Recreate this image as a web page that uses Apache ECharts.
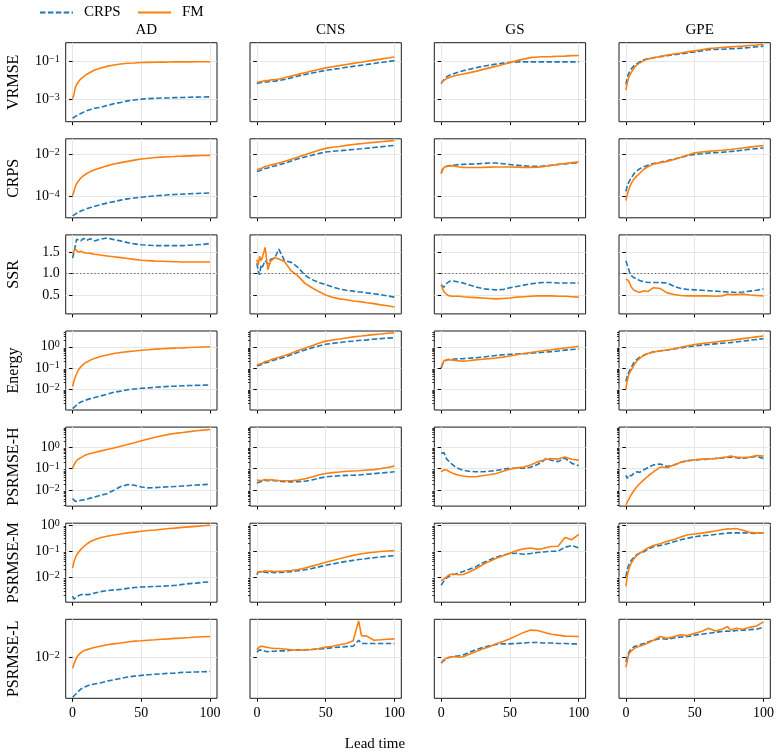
<!DOCTYPE html>
<html>
<head>
<meta charset="utf-8">
<script src="https://cdn.jsdelivr.net/npm/echarts@6/dist/echarts.min.js"></script>
<style>
html,body{margin:0;padding:0;background:#fff}
#chart{width:782px;height:755px}
</style>
</head>
<body>
<div id="chart"></div>
<script>
// lead time steps shared by every panel
var leadTime = [0,1,2,3,4,6,8,10,13,16,20,25,30,35,40,45,50,55,60,65,70,74,76,80,85,90,95,100];
var datasets = ['AD','CNS','GS','GPE'];
var metrics = ['VRMSE','CRPS','SSR','Energy','PSRMSE-H','PSRMSE-M','PSRMSE-L'];
var xTicks = [0,50,100];

// VRMSE
var VRMSE_CRPS_AD = [1.05e-4,1.17e-4,1.32e-4,1.41e-4,1.55e-4,1.86e-4,2.19e-4,2.57e-4,3.02e-4,3.47e-4,3.89e-4,4.9e-4,6.03e-4,7.08e-4,8.51e-4,9.55e-4,1.05e-3,1.12e-3,1.17e-3,1.2e-3,1.23e-3,1.26e-3,1.26e-3,1.29e-3,1.32e-3,1.35e-3,1.36e-3,1.38e-3];
var VRMSE_FM_AD = [1.12e-3,1.86e-3,4.27e-3,6.3e-3,8.1e-3,1.23e-2,1.58e-2,2.04e-2,2.69e-2,3.55e-2,4.37e-2,5.5e-2,6.46e-2,7.24e-2,7.94e-2,8.3e-2,8.7e-2,8.9e-2,9.1e-2,9.2e-2,9.3e-2,9.4e-2,9.4e-2,9.45e-2,9.5e-2,9.55e-2,9.6e-2,9.6e-2];
var VRMSE_CRPS_CNS = [6.9e-3,7.2e-3,7.6e-3,7.4e-3,7.9e-3,8.3e-3,8.5e-3,9.1e-3,9.3e-3,1.0e-2,1.12e-2,1.38e-2,1.7e-2,2.04e-2,2.45e-2,2.88e-2,3.39e-2,3.8e-2,4.27e-2,4.9e-2,5.5e-2,6.0e-2,6.3e-2,6.9e-2,7.8e-2,8.7e-2,9.8e-2,0.11];
var VRMSE_FM_CNS = [8.1e-3,8.9e-3,8.5e-3,9.5e-3,9.1e-3,1.0e-2,9.8e-3,1.07e-2,1.1e-2,1.2e-2,1.38e-2,1.7e-2,2.09e-2,2.57e-2,3.16e-2,3.8e-2,4.57e-2,5.25e-2,6.0e-2,6.9e-2,7.9e-2,8.7e-2,9.1e-2,0.102,0.117,0.132,0.151,0.17];
var VRMSE_CRPS_GS = [6.8e-3,8.9e-3,1.12e-2,1.38e-2,1.58e-2,1.9e-2,2.14e-2,2.4e-2,2.82e-2,3.24e-2,3.8e-2,4.57e-2,5.5e-2,6.3e-2,7.2e-2,8.1e-2,8.9e-2,9.3e-2,9.5e-2,9.5e-2,9.5e-2,9.5e-2,9.5e-2,9.5e-2,9.5e-2,9.5e-2,9.5e-2,9.5e-2];
var VRMSE_FM_GS = [7.6e-3,8.9e-3,1.02e-2,1.15e-2,1.26e-2,1.45e-2,1.62e-2,1.78e-2,2.0e-2,2.19e-2,2.51e-2,3.0e-2,3.7e-2,4.57e-2,5.6e-2,6.9e-2,8.7e-2,0.11,0.132,0.158,0.17,0.174,0.174,0.178,0.186,0.19,0.2,0.204];
var VRMSE_CRPS_GPE = [6.2e-3,1.38e-2,2.29e-2,3.16e-2,4.07e-2,6.0e-2,7.6e-2,9.5e-2,0.123,0.138,0.155,0.178,0.2,0.224,0.251,0.282,0.309,0.355,0.407,0.427,0.437,0.452,0.457,0.468,0.5,0.537,0.582,0.631];
var VRMSE_FM_GPE = [3.16e-3,7.6e-3,1.38e-2,2.0e-2,2.69e-2,4.57e-2,6.5e-2,8.3e-2,0.11,0.132,0.155,0.182,0.214,0.245,0.275,0.316,0.355,0.407,0.468,0.5,0.537,0.562,0.575,0.6,0.63,0.676,0.724,0.794];

// CRPS
var CRPS_CRPS_AD = [1.23e-5,1.35e-5,1.48e-5,1.62e-5,1.78e-5,2.09e-5,2.34e-5,2.63e-5,3.02e-5,3.47e-5,4.07e-5,4.9e-5,5.75e-5,6.76e-5,7.76e-5,8.5e-5,9.3e-5,1.0e-4,1.07e-4,1.13e-4,1.2e-4,1.24e-4,1.26e-4,1.29e-4,1.35e-4,1.38e-4,1.43e-4,1.48e-4];
var CRPS_FM_AD = [1.07e-4,1.78e-4,2.95e-4,4.0e-4,5.1e-4,7.4e-4,9.5e-4,1.17e-3,1.48e-3,1.82e-3,2.19e-3,2.75e-3,3.39e-3,3.89e-3,4.47e-3,5.1e-3,5.75e-3,6.3e-3,6.76e-3,7.08e-3,7.4e-3,7.6e-3,7.8e-3,7.9e-3,8.1e-3,8.3e-3,8.4e-3,8.5e-3];
var CRPS_CRPS_CNS = [1.51e-3,1.74e-3,1.62e-3,1.91e-3,1.82e-3,2.09e-3,2.19e-3,2.51e-3,2.69e-3,3.02e-3,3.63e-3,4.68e-3,5.9e-3,7.24e-3,8.7e-3,1.05e-2,1.23e-2,1.32e-2,1.41e-2,1.51e-2,1.62e-2,1.7e-2,1.74e-2,1.86e-2,2.0e-2,2.14e-2,2.34e-2,2.51e-2];
var CRPS_FM_CNS = [1.82e-3,2.09e-3,2.0e-3,2.34e-3,2.19e-3,2.63e-3,2.69e-3,3.02e-3,3.31e-3,3.72e-3,4.37e-3,5.6e-3,7.08e-3,9.1e-3,1.17e-2,1.48e-2,1.82e-2,2.04e-2,2.24e-2,2.51e-2,2.75e-2,2.95e-2,3.02e-2,3.24e-2,3.47e-2,3.72e-2,3.98e-2,4.27e-2];
var CRPS_CRPS_GS = [1.26e-3,1.91e-3,2.29e-3,2.51e-3,2.63e-3,2.75e-3,2.88e-3,3.02e-3,3.16e-3,3.24e-3,3.31e-3,3.39e-3,3.55e-3,3.72e-3,3.72e-3,3.47e-3,3.16e-3,2.95e-3,2.75e-3,2.63e-3,2.63e-3,2.69e-3,2.75e-3,2.95e-3,3.16e-3,3.39e-3,3.63e-3,3.8e-3];
var CRPS_FM_GS = [1.17e-3,1.78e-3,2.34e-3,2.57e-3,2.69e-3,2.82e-3,2.75e-3,2.63e-3,2.45e-3,2.34e-3,2.29e-3,2.29e-3,2.34e-3,2.4e-3,2.45e-3,2.45e-3,2.45e-3,2.4e-3,2.34e-3,2.34e-3,2.4e-3,2.51e-3,2.63e-3,2.88e-3,3.24e-3,3.55e-3,3.89e-3,4.17e-3];
var CRPS_CRPS_GPE = [1.74e-4,3.16e-4,4.47e-4,6.0e-4,7.6e-4,1.2e-3,1.58e-3,2.0e-3,2.51e-3,2.95e-3,3.55e-3,4.07e-3,4.79e-3,5.75e-3,6.9e-3,8.3e-3,9.5e-3,1.02e-2,1.1e-2,1.15e-2,1.2e-2,1.26e-2,1.29e-2,1.38e-2,1.51e-2,1.66e-2,1.78e-2,1.91e-2];
var CRPS_FM_GPE = [6.5e-5,1.26e-4,2.0e-4,3.02e-4,4.27e-4,6.76e-4,9.3e-4,1.2e-3,1.91e-3,2.51e-3,3.31e-3,3.89e-3,4.47e-3,5.5e-3,6.9e-3,8.9e-3,1.12e-2,1.23e-2,1.32e-2,1.41e-2,1.48e-2,1.58e-2,1.62e-2,1.74e-2,1.91e-2,2.09e-2,2.29e-2,2.45e-2];

// SSR
var SSR_CRPS_AD = [1.36,1.5,1.65,1.8,1.83,1.76,1.82,1.77,1.81,1.76,1.8,1.83,1.79,1.76,1.72,1.69,1.67,1.66,1.65,1.65,1.65,1.65,1.65,1.65,1.66,1.67,1.68,1.7];
var SSR_FM_AD = [1.47,1.52,1.57,1.54,1.5,1.52,1.49,1.48,1.47,1.45,1.43,1.41,1.39,1.37,1.35,1.33,1.31,1.3,1.29,1.285,1.28,1.275,1.275,1.27,1.27,1.27,1.27,1.27];
var SSR_CRPS_CNS = [1.24,1.06,0.97,1.2,1.15,1.3,1.22,1.33,1.36,1.57,1.3,1.26,1.14,0.96,0.86,0.79,0.74,0.69,0.64,0.61,0.59,0.57,0.57,0.55,0.53,0.51,0.48,0.45];
var SSR_FM_CNS = [1.32,1.2,1.4,1.3,1.38,1.61,1.09,1.29,1.37,1.34,1.28,1.06,0.94,0.77,0.67,0.58,0.5,0.45,0.41,0.39,0.36,0.35,0.34,0.32,0.3,0.27,0.25,0.22];
var SSR_CRPS_GS = [0.74,0.7,0.68,0.72,0.77,0.82,0.83,0.82,0.8,0.78,0.74,0.69,0.65,0.63,0.62,0.63,0.67,0.7,0.73,0.76,0.78,0.79,0.79,0.79,0.78,0.78,0.78,0.78];
var SSR_FM_GS = [0.74,0.65,0.58,0.54,0.51,0.48,0.47,0.47,0.47,0.46,0.45,0.44,0.43,0.42,0.41,0.42,0.43,0.45,0.46,0.47,0.48,0.48,0.48,0.48,0.47,0.47,0.46,0.45];
var SSR_CRPS_GPE = [1.3,1.2,1.1,1.0,0.95,0.9,0.87,0.84,0.81,0.79,0.79,0.79,0.78,0.7,0.65,0.63,0.62,0.61,0.6,0.59,0.58,0.57,0.57,0.56,0.57,0.59,0.61,0.64];
var SSR_FM_GPE = [0.87,0.85,0.83,0.8,0.68,0.61,0.58,0.56,0.6,0.58,0.67,0.65,0.55,0.51,0.49,0.48,0.48,0.48,0.48,0.47,0.48,0.52,0.51,0.51,0.52,0.5,0.49,0.48];

// Energy
var ENERGY_CRPS_AD = [1.17e-3,1.32e-3,1.51e-3,1.74e-3,2.0e-3,2.4e-3,2.69e-3,3.02e-3,3.47e-3,3.89e-3,4.57e-3,5.6e-3,6.9e-3,7.9e-3,9.1e-3,1.0e-2,1.07e-2,1.12e-2,1.2e-2,1.26e-2,1.32e-2,1.35e-2,1.36e-2,1.41e-2,1.45e-2,1.48e-2,1.51e-2,1.55e-2];
var ENERGY_FM_AD = [1.29e-2,2.4e-2,3.8e-2,5.25e-2,7.6e-2,0.112,0.151,0.186,0.234,0.282,0.347,0.407,0.479,0.537,0.589,0.631,0.684,0.724,0.776,0.813,0.841,0.861,0.871,0.891,0.923,0.955,0.977,1.0];
var ENERGY_CRPS_CNS = [0.126,0.145,0.135,0.158,0.148,0.174,0.182,0.209,0.24,0.269,0.324,0.417,0.55,0.708,0.891,1.1,1.32,1.45,1.58,1.74,1.86,2.0,2.04,2.14,2.29,2.45,2.57,2.69];
var ENERGY_FM_CNS = [0.141,0.158,0.151,0.178,0.166,0.2,0.209,0.24,0.275,0.316,0.38,0.49,0.66,0.85,1.12,1.48,1.86,2.09,2.34,2.63,2.95,3.16,3.24,3.47,3.8,4.07,4.37,4.68];
var ENERGY_CRPS_GS = [0.098,0.151,0.2,0.229,0.24,0.251,0.257,0.263,0.269,0.275,0.288,0.302,0.324,0.355,0.389,0.417,0.437,0.457,0.468,0.49,0.525,0.55,0.562,0.589,0.631,0.692,0.741,0.794];
var ENERGY_FM_GS = [0.11,0.158,0.219,0.24,0.245,0.245,0.234,0.224,0.214,0.209,0.219,0.24,0.257,0.275,0.295,0.324,0.363,0.417,0.479,0.537,0.6,0.646,0.676,0.724,0.794,0.871,0.955,1.07];
var ENERGY_CRPS_GPE = [0.0224,0.0398,0.0589,0.0794,0.105,0.19,0.251,0.316,0.398,0.479,0.575,0.646,0.708,0.794,0.891,1.0,1.1,1.2,1.29,1.38,1.48,1.55,1.58,1.7,1.86,2.04,2.24,2.4];
var ENERGY_FM_GPE = [0.01,0.0251,0.0447,0.063,0.081,0.138,0.214,0.282,0.389,0.479,0.562,0.631,0.708,0.813,0.955,1.12,1.29,1.41,1.55,1.7,1.86,2.0,2.04,2.19,2.45,2.69,2.95,3.24];

// PSRMSE-H
var PSH_CRPS_AD = [4.07e-3,3.31e-3,3.02e-3,3.09e-3,3.16e-3,3.39e-3,3.55e-3,3.8e-3,4.27e-3,4.79e-3,5.75e-3,6.9e-3,1.0e-2,1.48e-2,1.82e-2,1.7e-2,1.41e-2,1.29e-2,1.32e-2,1.38e-2,1.45e-2,1.48e-2,1.51e-2,1.58e-2,1.66e-2,1.74e-2,1.82e-2,1.91e-2];
var PSH_FM_AD = [0.105,0.151,0.2,0.24,0.275,0.331,0.389,0.447,0.513,0.575,0.661,0.794,0.933,1.12,1.35,1.62,2.0,2.45,2.95,3.47,3.98,4.37,4.57,4.9,5.37,5.89,6.31,6.76];
var PSH_CRPS_CNS = [2.19e-2,2.63e-2,2.4e-2,2.88e-2,2.63e-2,2.95e-2,2.75e-2,2.88e-2,2.75e-2,2.63e-2,2.51e-2,2.45e-2,2.51e-2,2.63e-2,3.02e-2,3.63e-2,4.17e-2,4.47e-2,4.68e-2,4.9e-2,5.0e-2,5.1e-2,5.25e-2,5.5e-2,5.9e-2,6.3e-2,6.76e-2,7.24e-2];
var PSH_FM_CNS = [2.95e-2,3.16e-2,2.82e-2,3.24e-2,2.88e-2,3.16e-2,2.95e-2,3.09e-2,2.95e-2,2.82e-2,2.75e-2,2.75e-2,2.95e-2,3.39e-2,4.17e-2,5.1e-2,6.0e-2,6.6e-2,7.08e-2,7.6e-2,7.9e-2,8.1e-2,8.3e-2,8.7e-2,9.1e-2,0.102,0.115,0.132];
var PSH_CRPS_GS = [0.525,0.501,0.562,0.398,0.282,0.214,0.158,0.126,0.1,0.0851,0.0759,0.0724,0.0724,0.0759,0.0832,0.0955,0.105,0.105,0.107,0.117,0.158,0.224,0.302,0.251,0.214,0.316,0.178,0.138];
var PSH_FM_GS = [0.0724,0.0794,0.0891,0.0933,0.0871,0.0724,0.0631,0.0562,0.0501,0.0457,0.0427,0.0427,0.0468,0.0525,0.0603,0.0759,0.0955,0.11,0.12,0.151,0.209,0.251,0.269,0.302,0.282,0.355,0.275,0.251];
var PSH_CRPS_GPE = [0.0501,0.0355,0.0501,0.0603,0.0468,0.0631,0.0724,0.0676,0.0891,0.112,0.151,0.166,0.126,0.151,0.2,0.24,0.251,0.269,0.282,0.302,0.316,0.339,0.355,0.331,0.302,0.339,0.38,0.302];
var PSH_FM_GPE = [2.0e-3,2.75e-3,3.72e-3,4.9e-3,6.3e-3,0.01,0.0145,0.02,0.0302,0.0447,0.0708,0.12,0.112,0.151,0.2,0.234,0.263,0.282,0.288,0.302,0.331,0.363,0.389,0.355,0.331,0.347,0.417,0.389];

// PSRMSE-M
var PSM_CRPS_AD = [1.91e-3,1.48e-3,1.58e-3,1.82e-3,2.04e-3,2.19e-3,2.24e-3,2.19e-3,2.24e-3,2.51e-3,2.82e-3,3.09e-3,3.31e-3,3.47e-3,3.8e-3,4.07e-3,4.27e-3,4.37e-3,4.47e-3,4.57e-3,4.79e-3,4.9e-3,5.0e-3,5.37e-3,5.75e-3,6.0e-3,6.46e-3,6.76e-3];
var PSM_FM_AD = [0.0224,0.0398,0.0562,0.0724,0.0871,0.117,0.148,0.182,0.234,0.275,0.324,0.372,0.417,0.457,0.501,0.537,0.575,0.617,0.646,0.692,0.733,0.759,0.776,0.813,0.851,0.891,0.933,0.977];
var PSM_CRPS_CNS = [0.0126,0.0158,0.0141,0.0166,0.0148,0.0158,0.0151,0.0158,0.0151,0.0155,0.0158,0.0166,0.0178,0.0195,0.0219,0.0251,0.0288,0.0324,0.0363,0.0407,0.0447,0.0479,0.049,0.0525,0.0562,0.0603,0.0646,0.0676];
var PSM_FM_CNS = [0.0162,0.0178,0.0158,0.0182,0.0166,0.0178,0.017,0.0174,0.0166,0.017,0.0174,0.0182,0.02,0.0229,0.0269,0.0316,0.038,0.0437,0.0513,0.0603,0.0692,0.0759,0.0794,0.0851,0.0912,0.0977,0.102,0.105];
var PSM_CRPS_GS = [5.0e-3,6.0e-3,7.08e-3,8.7e-3,0.01,0.0112,0.0126,0.0132,0.0148,0.0166,0.02,0.0251,0.0355,0.0457,0.0589,0.0708,0.0813,0.0832,0.0759,0.0813,0.0891,0.0933,0.0955,0.1,0.1,0.141,0.166,0.132];
var PSM_FM_GS = [7.4e-3,7.9e-3,8.7e-3,9.5e-3,0.0105,0.0126,0.0135,0.0132,0.0126,0.0129,0.0158,0.0209,0.0302,0.0407,0.0537,0.0676,0.0851,0.105,0.123,0.132,0.117,0.126,0.135,0.151,0.155,0.331,0.275,0.437];
var PSM_CRPS_GPE = [0.0105,0.02,0.0282,0.0372,0.0447,0.0603,0.0741,0.0832,0.0955,0.12,0.148,0.166,0.191,0.229,0.275,0.316,0.355,0.389,0.407,0.437,0.468,0.49,0.501,0.501,0.501,0.49,0.479,0.501];
var PSM_FM_GPE = [4.57e-3,0.0112,0.0191,0.0275,0.0363,0.0525,0.0692,0.0832,0.105,0.132,0.166,0.191,0.24,0.282,0.347,0.427,0.457,0.49,0.537,0.589,0.661,0.724,0.708,0.741,0.631,0.525,0.501,0.501];

// PSRMSE-L
var PSL_CRPS_AD = [1.38e-3,1.48e-3,1.58e-3,1.7e-3,1.82e-3,2.09e-3,2.24e-3,2.4e-3,2.57e-3,2.69e-3,2.82e-3,3.09e-3,3.31e-3,3.55e-3,3.8e-3,3.98e-3,4.12e-3,4.27e-3,4.37e-3,4.47e-3,4.57e-3,4.62e-3,4.68e-3,4.79e-3,4.84e-3,4.9e-3,4.95e-3,5.0e-3];
var PSL_FM_AD = [5.9e-3,7.24e-3,8.7e-3,0.01,0.0112,0.0129,0.0141,0.0148,0.0158,0.0166,0.0178,0.0191,0.02,0.0209,0.0219,0.0229,0.0234,0.024,0.0245,0.0251,0.0257,0.0263,0.0263,0.0269,0.0275,0.0282,0.0285,0.0288];
var PSL_CRPS_CNS = [0.0132,0.0141,0.0148,0.0138,0.0145,0.0138,0.0135,0.0138,0.0138,0.0141,0.0141,0.0145,0.0148,0.0148,0.0151,0.0155,0.0158,0.0166,0.017,0.0174,0.0178,0.024,0.0204,0.0204,0.0204,0.0204,0.0204,0.0204];
var PSL_FM_CNS = [0.0148,0.0158,0.0174,0.0166,0.0178,0.017,0.0166,0.0162,0.0158,0.0158,0.0155,0.0148,0.0145,0.0148,0.0151,0.0158,0.017,0.0178,0.0191,0.0204,0.0234,0.0631,0.0302,0.0295,0.024,0.0245,0.0251,0.0257];
var PSL_CRPS_GS = [7.6e-3,8.1e-3,8.7e-3,9.1e-3,9.5e-3,0.0102,0.0105,0.0107,0.011,0.0115,0.0129,0.0148,0.0166,0.0182,0.0195,0.02,0.02,0.0204,0.0209,0.0214,0.0214,0.0209,0.0209,0.0209,0.0204,0.0204,0.02,0.02];
var PSL_FM_GS = [7.76e-3,8.5e-3,9.1e-3,9.5e-3,9.8e-3,0.0102,0.0105,0.0105,0.0102,0.0105,0.0117,0.0135,0.0155,0.0174,0.02,0.0224,0.0257,0.0302,0.0355,0.0398,0.0389,0.0363,0.0347,0.0324,0.0309,0.0295,0.0292,0.0288];
var PSL_CRPS_GPE = [8.1e-3,0.0105,0.0126,0.0145,0.0155,0.0174,0.0182,0.0191,0.0204,0.0219,0.024,0.0263,0.0251,0.0269,0.0282,0.0288,0.0309,0.0324,0.0339,0.0355,0.0372,0.038,0.0372,0.0389,0.0398,0.0407,0.0417,0.0457];
var PSL_FM_GPE = [6.2e-3,8.7e-3,0.0115,0.0132,0.0141,0.0158,0.017,0.0178,0.0191,0.0209,0.024,0.0288,0.0263,0.0288,0.0316,0.0302,0.0339,0.0372,0.0437,0.038,0.0417,0.0479,0.0398,0.0437,0.0417,0.0457,0.049,0.0603];

// lookup [metric row][model][dataset col]
var lookup = [
  {CRPS:[VRMSE_CRPS_AD,VRMSE_CRPS_CNS,VRMSE_CRPS_GS,VRMSE_CRPS_GPE], FM:[VRMSE_FM_AD,VRMSE_FM_CNS,VRMSE_FM_GS,VRMSE_FM_GPE]},
  {CRPS:[CRPS_CRPS_AD,CRPS_CRPS_CNS,CRPS_CRPS_GS,CRPS_CRPS_GPE], FM:[CRPS_FM_AD,CRPS_FM_CNS,CRPS_FM_GS,CRPS_FM_GPE]},
  {CRPS:[SSR_CRPS_AD,SSR_CRPS_CNS,SSR_CRPS_GS,SSR_CRPS_GPE], FM:[SSR_FM_AD,SSR_FM_CNS,SSR_FM_GS,SSR_FM_GPE]},
  {CRPS:[ENERGY_CRPS_AD,ENERGY_CRPS_CNS,ENERGY_CRPS_GS,ENERGY_CRPS_GPE], FM:[ENERGY_FM_AD,ENERGY_FM_CNS,ENERGY_FM_GS,ENERGY_FM_GPE]},
  {CRPS:[PSH_CRPS_AD,PSH_CRPS_CNS,PSH_CRPS_GS,PSH_CRPS_GPE], FM:[PSH_FM_AD,PSH_FM_CNS,PSH_FM_GS,PSH_FM_GPE]},
  {CRPS:[PSM_CRPS_AD,PSM_CRPS_CNS,PSM_CRPS_GS,PSM_CRPS_GPE], FM:[PSM_FM_AD,PSM_FM_CNS,PSM_FM_GS,PSM_FM_GPE]},
  {CRPS:[PSL_CRPS_AD,PSL_CRPS_CNS,PSL_CRPS_GS,PSL_CRPS_GPE], FM:[PSL_FM_AD,PSL_FM_CNS,PSL_FM_GS,PSL_FM_GPE]}
];

// y limits per row (log10 exponents, SSR row is linear) and major ticks
var yLimits = [[-4.16,-0.02],[-5.0,-1.29],[0.06,1.9],[-3.0,0.75],[-2.74,0.94],[-2.95,0.07],[-2.883,-1.165]];
var yMajor = [[-3,-1],[-4,-2],[0.5,1.0,1.5],[-2,-1,0],[-2,-1,0],[-2,-1,0],[-2]];
var yMinorRows = [3,4,5];

var FONT = "'Liberation Serif', 'DejaVu Serif', serif";
var INK = '#000';
var colLeft = [65.7, 250, 434.3, 619];
var panelW = 151.3, panelH = 79;
function rowTop(r){ return 42.7 + r*96.1; }

function powLabel(v){
  var e = Math.round(Math.log10(v));
  return '{b|10}{s|' + (e < 0 ? '\u2212' + (-e) : String(e)) + '}';
}
var richPow = {
  b: {fontSize:14, fontFamily:FONT, color:INK, lineHeight:14, verticalAlign:'bottom'},
  s: {fontSize:10, fontFamily:FONT, color:INK, lineHeight:10, verticalAlign:'top', padding:[0,0,7,0]}
};

var grids = [], xAxes = [], yAxes = [], series = [];

metrics.forEach(function(metric, r){
  datasets.forEach(function(ds, c){
    var gi = grids.length;
    grids.push({left:colLeft[c], top:rowTop(r), width:panelW, height:panelH,
      show:true, borderColor:'#1a1a1a', borderWidth:1, outerBoundsMode:'none'});

    xAxes.push({gridIndex:gi, type:'value', min:-5, max:105,
      axisLine:{show:false},
      axisTick:{show:true, length:3.5, customValues:xTicks, lineStyle:{color:INK, width:1}},
      axisLabel:{show:r === metrics.length-1, customValues:xTicks, margin:8, fontSize:14, fontFamily:FONT, color:INK},
      splitLine:{show:true, lineStyle:{color:'#e6e6e6', width:1}}
    });

    var lim = yLimits[r];
    var isLog = r !== 2;
    var majors = isLog ? yMajor[r].map(function(e){ return Math.pow(10, e); }) : yMajor[r];
    var yi = yAxes.length;
    yAxes.push({gridIndex:gi, type:isLog ? 'log' : 'value', logBase:10, position:'left',
      min:isLog ? Math.pow(10, lim[0]) : lim[0], max:isLog ? Math.pow(10, lim[1]) : lim[1],
      axisLine:{show:false},
      axisTick:{show:true, length:3.5, customValues:majors, lineStyle:{color:INK, width:1}},
      axisLabel:{show:c === 0, customValues:majors, margin:6, fontSize:14, fontFamily:FONT, color:INK,
        formatter:isLog ? powLabel : function(v){ return v.toFixed(1); }, rich:isLog ? richPow : undefined},
      splitLine:{show:true, lineStyle:{color:'#e6e6e6', width:1}},
      name:c === 0 ? metric : '', nameLocation:'middle', nameRotate:90, nameGap:44,
      nameTextStyle:{fontSize:16, fontFamily:FONT, color:INK}
    });

    if (yMinorRows.indexOf(r) >= 0) {
      var minors = [];
      for (var e = Math.floor(lim[0]); e <= Math.ceil(lim[1]); e++) {
        for (var k = 2; k <= 9; k++) {
          var v = k * Math.pow(10, e);
          var lv = Math.log10(v);
          if (lv > lim[0] && lv < lim[1]) minors.push(v);
        }
      }
      yAxes.push({gridIndex:gi, type:'log', logBase:10, position:'left', offset:0,
        min:Math.pow(10, lim[0]), max:Math.pow(10, lim[1]),
        axisLine:{show:false}, axisLabel:{show:false}, splitLine:{show:false},
        axisTick:{show:true, length:2, customValues:minors, lineStyle:{color:INK, width:0.8}}
      });
    }

    var crps = lookup[r].CRPS[c], fm = lookup[r].FM[c];
    series.push({name:'CRPS', type:'line', xAxisIndex:gi, yAxisIndex:yi, symbol:'none', showSymbol:false,
      data:leadTime.map(function(t, i){ return [t, crps[i]]; }),
      lineStyle:{color:'#1f77b4', width:1.6, type:[5.5,2.4]}, itemStyle:{color:'#1f77b4'}, z:3});
    var fmSeries = {name:'FM', type:'line', xAxisIndex:gi, yAxisIndex:yi, symbol:'none', showSymbol:false,
      data:leadTime.map(function(t, i){ return [t, fm[i]]; }),
      lineStyle:{color:'#ff7f0e', width:1.6}, itemStyle:{color:'#ff7f0e'}, z:4};
    if (r === 2) {
      fmSeries.markLine = {silent:true, symbol:'none', label:{show:false}, animation:false,
        lineStyle:{color:'#555', type:[1.2,2.4], width:1.1}, data:[{yAxis:1.0}]};
    }
    series.push(fmSeries);
  });
});

var titles = datasets.map(function(ds, c){
  return {text:ds, left:colLeft[c] + panelW/2, top:18, padding:5, textAlign:'center',
    textStyle:{fontSize:15, fontWeight:'normal', fontFamily:FONT, color:INK}};
});
titles.push({text:'Lead time', left:370, top:732, textAlign:'center',
  textStyle:{fontSize:15, fontWeight:'normal', fontFamily:FONT, color:INK}});

// legend: line samples only, no marker
var legendBase = {top:5, padding:0, itemWidth:33, itemHeight:14, itemGap:17,
  itemStyle:{opacity:0, borderWidth:0},
  textStyle:{fontSize:15, fontFamily:FONT, color:INK, padding:[0,0,0,6]}};
var legends = [
  Object.assign({}, legendBase, {left:39, data:['CRPS']}),
  Object.assign({}, legendBase, {left:137, data:['FM']})
];

var chart = echarts.init(document.getElementById('chart'));
chart.setOption({
  animation:false,
  backgroundColor:'#fff',
  title:titles,
  legend:legends,
  grid:grids,
  xAxis:xAxes,
  yAxis:yAxes,
  series:series
});
</script>
</body>
</html>
